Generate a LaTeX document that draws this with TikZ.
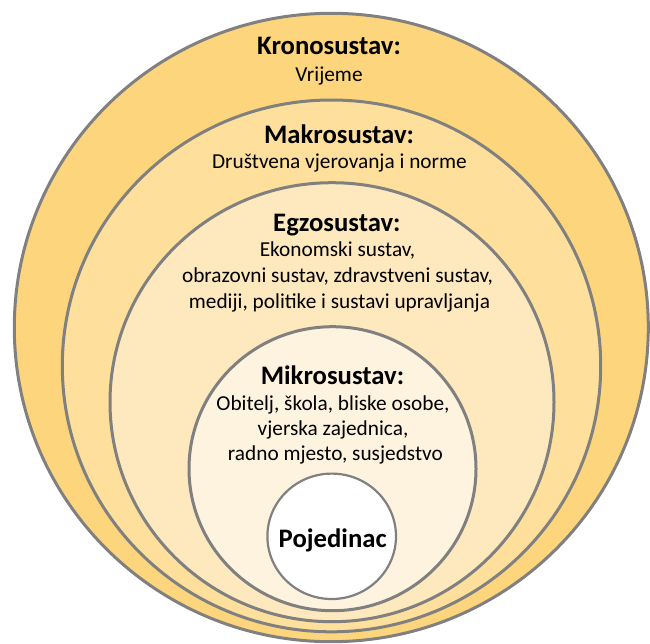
\documentclass[tikz,border=0pt]{standalone}
\usepackage{fontspec}
\setmainfont{Carlito}
\usetikzlibrary{shapes.geometric}
\definecolor{ringline}{HTML}{808080}
\definecolor{kronfill}{HTML}{FDD57C}
\definecolor{makrofill}{HTML}{FEDF9C}
\definecolor{egzofill}{HTML}{FEE9BF}
\definecolor{mikrofill}{HTML}{FEF3DE}
\begin{document}
\begin{tikzpicture}[x=1pt,y=-1pt,
  ring/.style={ellipse, draw=ringline, line width=3pt, inner sep=0pt, outer sep=0pt},
  head/.style={anchor=base, inner sep=0pt, font=\fontsize{26.7}{32}\selectfont\bfseries},
  body/.style={anchor=base, inner sep=0pt, font=\fontsize{21.3}{26}\selectfont}]
\useasboundingbox (0,0) rectangle (650,643);
% rings
\node[ring, fill=kronfill, minimum width=634pt, minimum height=628.4pt] (kron) at (331.3,327.5) {};
\node[ring, fill=makrofill, minimum width=538.4pt, minimum height=531.8pt] (makro) at (331.5,365.9) {};
\node[ring, fill=egzofill, minimum width=444pt, minimum height=439pt] (egzo) at (332,402.2) {};
\node[ring, fill=mikrofill, minimum width=287pt, minimum height=284pt] (mikro) at (332.5,468.7) {};
\node[ring, fill=white, line width=2.2pt, minimum width=128.6pt, minimum height=125.4pt] (poj) at (331.7,536.3) {};
% texts
\node[head] (kronH) at (329,54.3) {Kronosustav:};
\node[body] (kronB) at (329,81) {Vrijeme};
\node[head] (makroH) at (339,143.3) {Makrosustav:};
\node[body] (makroB) at (339.4,168.6) {Društvena vjerovanja i norme};
\node[head] (egzoH) at (336.9,231.7) {Egzosustav:};
\node[body] (egzoB1) at (337.5,256.3) {Ekonomski sustav,};
\node[body] (egzoB2) at (337.5,282.6) {obrazovni sustav, zdravstveni sustav,};
\node[body] (egzoB3) at (339.5,308.3) {mediji, politike i sustavi upravljanja};
\node[head] (mikroH) at (332.5,384.6) {Mikrosustav:};
\node[body] (mikroB1) at (333,410) {Obitelj, škola, bliske osobe,};
\node[body] (mikroB2) at (333,435.4) {vjerska zajednica,};
\node[body] (mikroB3) at (335.4,460.4) {radno mjesto, susjedstvo};
\node[head] (pojH) at (332.7,547.4) {Pojedinac};
\end{tikzpicture}
\end{document}
